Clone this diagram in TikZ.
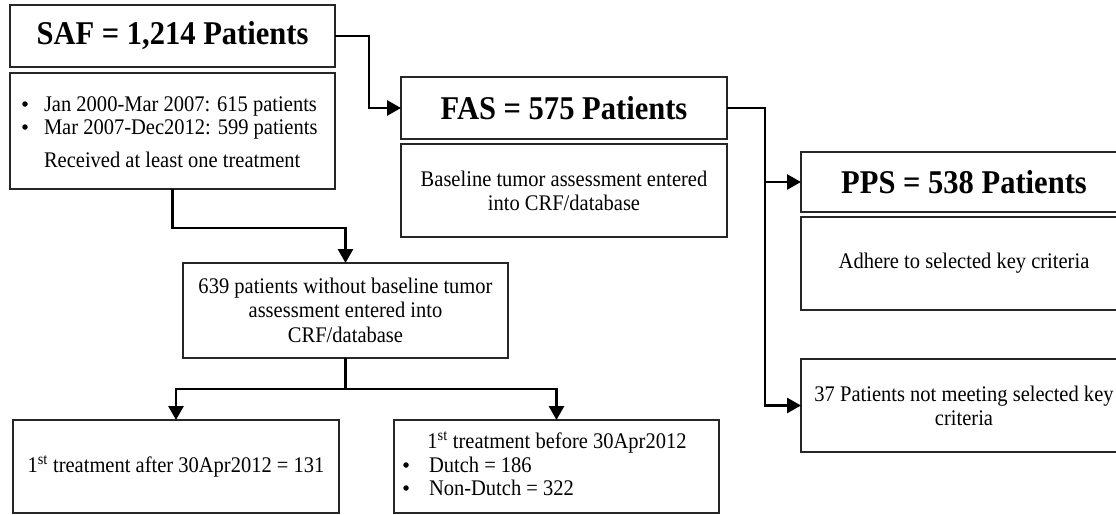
\documentclass[tikz,border=0pt]{standalone}
\usepackage{fontspec}
\setmainfont{Liberation Serif}[FakeStretch=0.92]
\usetikzlibrary{arrows.meta}
\newcommand\dgbody{\fontsize{22.3}{23.8}\selectfont}
\newcommand\dgtitle{\fontsize{33.2}{36}\selectfont\bfseries}
\begin{document}
\begin{tikzpicture}[x=1pt,y=-1pt,
  box/.style={draw=black!85, line width=1.5pt, inner sep=0pt, outer sep=0pt, align=center, font=\dgbody},
  titlebox/.style={box, font=\dgtitle},
  txt/.style={inner sep=0pt, outer sep=0pt, font=\dgbody},
  dot/.style={circle, fill=black, inner sep=0pt, minimum size=5.5pt},
  conn/.style={line width=2.8pt, -{Triangle[length=14pt,width=15pt]}}]
\useasboundingbox (0,0) rectangle (1116,514);
\clip (0,0) rectangle (1116,514);
% SAF
\node[titlebox, minimum width=325pt, minimum height=62pt] (saf) at (172.5,36) {SAF = 1,214 Patients};
\node[box, minimum width=325pt, minimum height=116pt] (safd) at (172.5,131) {};
\node[dot] (sb1) at (25,104) {};
\node[dot] (sb2) at (25,127) {};
\node[txt, anchor=base west] (saf1) at (44,111) {Jan 2000-Mar 2007: 615 patients};
\node[txt, anchor=base west] (saf2) at (44,134) {Mar 2007-Dec2012: 599 patients};
\node[txt, anchor=base west] (saf3) at (44,167) {Received at least one treatment};
% FAS
\node[titlebox, minimum width=326pt, minimum height=62pt] (fas) at (564,108) {FAS = 575 Patients};
\node[box, minimum width=326pt, minimum height=93pt] (fasd) at (564,190.5) {Baseline tumor assessment entered\\into CRF/database};
% PPS
\node[titlebox, minimum width=326pt, minimum height=60pt] (pps) at (964,182) {PPS = 538 Patients};
\node[box, minimum width=326pt, minimum height=93pt] (ppsd) at (964,263.5) {Adhere to selected key criteria};
\node[box, minimum width=326pt, minimum height=93pt] (not37) at (964,405.5) {37 Patients not meeting selected key\\criteria};
% 639
\node[box, minimum width=325pt, minimum height=95pt] (b639) at (345.5,310.5) {639 patients without baseline tumor\\assessment entered into\\[1pt]CRF/database};
% bottom
\node[box, minimum width=326pt, minimum height=93pt] (after) at (176,466.5) {};
\node[txt, anchor=base] (aftert) at (176,472) {1\textsuperscript{st} treatment after 30Apr2012 = 131};
\node[box, minimum width=325pt, minimum height=93pt] (before) at (556.5,466.5) {};
\node[txt, anchor=base] (bef1) at (557,448) {1\textsuperscript{st} treatment before 30Apr2012};
\node[dot] (bb1) at (406,465) {};
\node[dot] (bb2) at (406,488) {};
\node[txt, anchor=base west] (bef2) at (429,472) {Dutch = 186};
\node[txt, anchor=base west] (bef3) at (429,495) {Non-Dutch = 322};
% connectors
\draw[conn] (saf.east) -- ++(34,0) |- (fas.west);
\draw[conn] (fas.east) -- ++(38,0) |- (pps.west);
\draw[conn] (fas.east) -- ++(38,0) |- (not37.west);
\draw[conn] (safd.south) -- ++(0,39) -| (b639.north);
\draw[conn] (b639.south) -- ++(0,31) -| (after.north);
\draw[conn] (b639.south) -- ++(0,31) -| (before.north);
\end{tikzpicture}
\end{document}
